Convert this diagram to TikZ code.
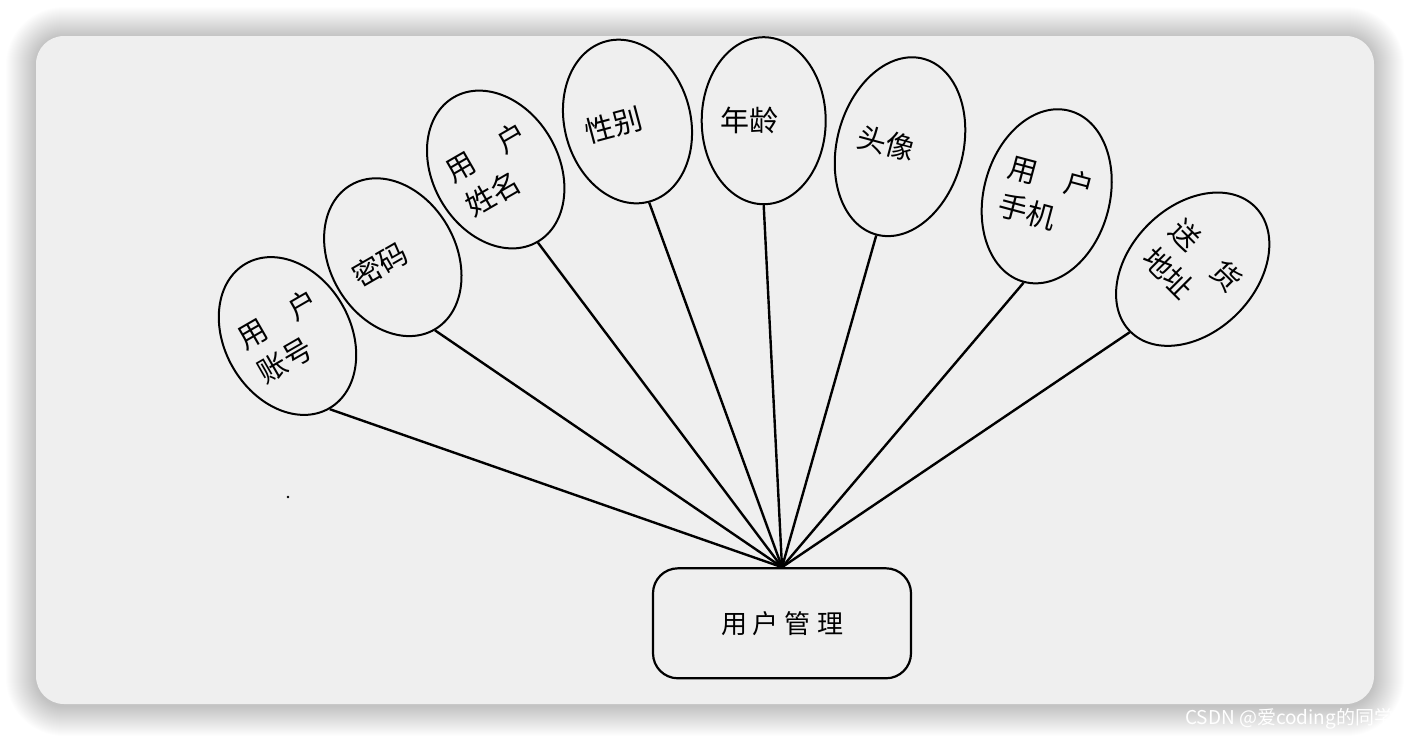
\documentclass[tikz,border=0pt]{standalone}
\usepackage{fontspec}
\newfontfamily\cjk{Noto Sans CJK SC}
\usetikzlibrary{shapes.geometric}
\definecolor{cardbg}{HTML}{EFEFEF}
\tikzset{
  attr/.style={ellipse, draw=black, line width=2pt, inner sep=0pt,
    minimum width=126pt, text width=87pt, align=left,
    font=\cjk\fontsize{29}{39}\selectfont},
  link/.style={line width=2.4pt, draw=black},
  entity/.style={draw=black, line width=2.2pt, rounded corners=25pt,
    minimum width=258pt, minimum height=110pt, inner sep=0pt,
    font=\cjk\fontsize{26}{30}\selectfont},
  wmark/.style={anchor=west, text=white, inner sep=0pt,
    font=\cjk\fontsize{19}{19}\selectfont}
}
\newcommand{\jline}[2]{\makebox[87pt][s]{#1\hfill #2}}
\begin{document}
\begin{tikzpicture}[x=1pt,y=-1pt]
\useasboundingbox (0,0) rectangle (1410,740);
\fill[white] (0,0) rectangle (1410,740);
% shadow
\foreach \i in {1,...,30}{
  \pgfmathsetmacro{\r}{28+\i}
  \fill[black, opacity=0.007, rounded corners=\r pt]
    (36-\i,37-\i) rectangle (1374+\i,706+\i);
}
% card
\fill[cardbg, rounded corners=28pt] (36,36) rectangle (1374,704);

% attribute ellipses
\node[attr, rotate=30,  minimum height=167pt] (e1) at (287.5,336) {\jline{用}{户}\\账号};
\node[attr, rotate=30,  minimum height=167pt] (e2) at (392.8,257.2) {密码};
\node[attr, rotate=30,  minimum height=167pt] (e3) at (495.7,169.5) {\jline{用}{户}\\姓名};
\node[attr, rotate=15,  minimum height=166pt] (e4) at (627.5,121.5) {性别};
\node[attr, rotate=0,   minimum height=167pt, minimum width=124pt] (e5) at (763.7,120.7) {年龄};
\node[attr, rotate=-15, minimum height=182pt] (e6) at (900,146.7) {头像};
\node[attr, rotate=-15, minimum height=177pt] (e7) at (1046.7,196.3) {\jline{用}{户}\\手机};
\node[attr, rotate=-45, minimum height=176.4pt] (e8) at (1192.7,269.2) {\jline{送}{货}\\地址};

% entity
\node[entity] (m) at (782,623.3) {\raisebox{-3pt}{用\hspace{6pt}户\hspace{6pt}管\hspace{6pt}理}};

% connectors
\foreach \e in {e1,e2,e3,e4,e5,e6,e7,e8}{
  \draw[link] (m.north) -- (\e.south);
}

% stray dot
\node[circle, fill=black, inner sep=0pt, minimum size=2.6pt] (dot) at (288,497) {};

% watermark
\node[wmark] (wm) at (1185,719) {CSDN @爱coding的同学};
\end{tikzpicture}
\end{document}
